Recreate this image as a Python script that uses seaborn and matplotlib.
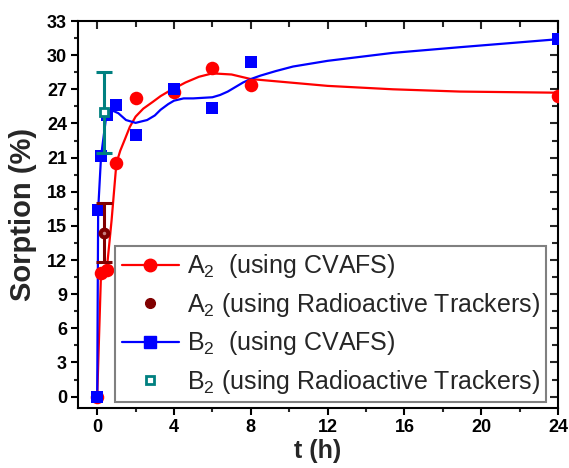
import numpy as np
import pandas as pd
import matplotlib
matplotlib.use("Agg")
import matplotlib.pyplot as plt
from matplotlib.lines import Line2D
from matplotlib.ticker import MultipleLocator
import seaborn as sns

# ---- data ----
a2_t = [0, 0.2, 0.5, 1, 2, 4, 6, 8, 24]
a2_v = [0, 10.9, 11.1, 20.5, 26.2, 26.8, 28.9, 27.4, 26.4]

b2_t = [0, 0.05, 0.2, 0.5, 1, 2, 4, 6, 8, 24]
b2_v = [0, 16.4, 21.1, 24.7, 25.6, 23.0, 27.0, 25.4, 29.4, 31.4]

# smooth fitted curves
a2_curve_t = [0, 0.2, 0.5, 0.75, 1, 1.2, 1.44, 1.7, 2, 2.4, 2.9, 3.3, 3.7, 4.6, 5.3, 6, 7, 8, 10, 12, 15.4, 18.9, 24]
a2_curve_v = [0, 10.9, 11.2, 15.5, 20.5, 21.6, 22.6, 23.7, 24.6, 25.3, 25.9, 26.4, 26.8, 27.6, 28.1, 28.4, 28.3, 27.9, 27.6, 27.3, 27.0, 26.8, 26.7]

b2_curve_t = [0, 0.05, 0.2, 0.5, 0.7, 1.1, 1.5, 2.0, 2.6, 3.0, 3.3, 3.7, 4.0, 4.5, 5, 6, 6.4, 6.8, 7.2, 7.6, 8.0, 8.5, 9.3, 10.2, 12, 15.4, 18.9, 24]
b2_curve_v = [0, 16.4, 21.1, 25.0, 25.2, 24.9, 24.3, 24.05, 24.3, 24.7, 25.2, 25.7, 26.0, 26.2, 26.2, 26.3, 26.5, 26.8, 27.2, 27.6, 27.9, 28.2, 28.6, 29.0, 29.5, 30.2, 30.7, 31.4]

# radioactive tracker measurements (mean, lower, upper)
a2r_t = [0.34]
a2r_v = [14.4]
a2r_lo = [11.8]
a2r_hi = [17.0]

b2r_t = [0.34]
b2r_v = [25.0]
b2r_lo = [21.4]
b2r_hi = [28.5]

labels = ["A$_2$  (using CVAFS)", "A$_2$ (using Radioactive Trackers)",
          "B$_2$  (using CVAFS)", "B$_2$ (using Radioactive Trackers)"]

# ---- style ----
sns.set_theme(style="ticks")
plt.rcParams['font.family'] = ['Liberation Sans', 'DejaVu Sans']
plt.rcParams['mathtext.fontset'] = 'custom'
plt.rcParams['mathtext.rm'] = 'Liberation Sans'
plt.rcParams['mathtext.it'] = 'Liberation Sans'
plt.rcParams['mathtext.bf'] = 'Liberation Sans:bold'

RED = "#ff0000"
BLUE = "#0000ff"
DRED = "#800000"
TEAL = "#008080"

fig = plt.figure(figsize=(5.69, 4.68), dpi=100)
ax = fig.add_axes([78/569, 1 - 408/468, (558-78)/569, (408-21)/468])

a2c = pd.DataFrame({"t": a2_curve_t, "v": a2_curve_v})
b2c = pd.DataFrame({"t": b2_curve_t, "v": b2_curve_v})
sns.lineplot(data=a2c, x="t", y="v", ax=ax, color=RED, lw=1.6, sort=False, zorder=2)
sns.lineplot(data=b2c, x="t", y="v", ax=ax, color=BLUE, lw=1.6, sort=False, zorder=2)

a2 = pd.DataFrame({"t": a2_t, "v": a2_v})
b2 = pd.DataFrame({"t": b2_t, "v": b2_v})
sns.scatterplot(data=a2, x="t", y="v", ax=ax, color=RED, marker="o", s=95,
                edgecolor=RED, linewidth=0, zorder=3)
sns.scatterplot(data=b2, x="t", y="v", ax=ax, color=BLUE, marker="s", s=80,
                edgecolor=BLUE, linewidth=0, zorder=4)

# error bars
a2r_err = [np.array(a2r_v) - np.array(a2r_lo), np.array(a2r_hi) - np.array(a2r_v)]
b2r_err = [np.array(b2r_v) - np.array(b2r_lo), np.array(b2r_hi) - np.array(b2r_v)]
ax.errorbar(a2r_t, a2r_v, yerr=a2r_err, fmt="none", ecolor=DRED, elinewidth=2.2,
            capsize=6, capthick=2.2, zorder=5)
ax.errorbar(b2r_t, b2r_v, yerr=b2r_err, fmt="none", ecolor=TEAL, elinewidth=2.2,
            capsize=6, capthick=2.2, zorder=5)
ax.plot(a2r_t, a2r_v, ls="none", marker="o", ms=7.5, mfc=DRED, mec=DRED, zorder=6)
ax.plot(a2r_t, a2r_v, ls="none", marker="o", ms=2.5, mfc="#d9a0a0", mec="none",
        alpha=0.8, zorder=7)
ax.plot(b2r_t, b2r_v, ls="none", marker="s", ms=6, mfc="white", mec=TEAL, mew=2, zorder=6)

# axes
ax.set_xlim(-1, 24)
ax.set_ylim(-1, 33)
ax.xaxis.set_major_locator(MultipleLocator(4))
ax.xaxis.set_minor_locator(MultipleLocator(2))
ax.yaxis.set_major_locator(MultipleLocator(3))
ax.yaxis.set_minor_locator(MultipleLocator(1.5))
for sp in ax.spines.values():
    sp.set_visible(True)
    sp.set_linewidth(1.5)
    sp.set_color("black")
ax.tick_params(axis="both", which="major", direction="out", length=5, width=1.5,
               labelsize=13, colors="black", pad=3)
ax.tick_params(axis="both", which="minor", direction="out", length=3, width=1.5)
for lab in ax.get_xticklabels() + ax.get_yticklabels():
    lab.set_fontweight("bold")

# mirrored inward ticks on top and right
axt = ax.secondary_xaxis("top")
axt.xaxis.set_major_locator(MultipleLocator(4))
axt.xaxis.set_minor_locator(MultipleLocator(2))
axt.tick_params(which="major", direction="in", length=6, width=1.5, labeltop=False)
axt.tick_params(which="minor", direction="in", length=4, width=1.5)
axr = ax.secondary_yaxis("right")
axr.yaxis.set_major_locator(MultipleLocator(3))
axr.yaxis.set_minor_locator(MultipleLocator(1.5))
axr.tick_params(which="major", direction="in", length=6, width=1.5, labelright=False)
axr.tick_params(which="minor", direction="in", length=4, width=1.5)

ax.set_xlabel("t (h)", fontsize=18, fontweight="bold", labelpad=2)
ax.set_ylabel("Sorption (%)", fontsize=21, fontweight="bold", labelpad=7)

handles = [
    Line2D([], [], color=RED, lw=1.6, marker="o", ms=9, mfc=RED, mec=RED),
    Line2D([], [], color=DRED, ls="none", marker="o", ms=7, mfc=DRED, mec=DRED),
    Line2D([], [], color=BLUE, lw=1.6, marker="s", ms=8, mfc=BLUE, mec=BLUE),
    Line2D([], [], color=TEAL, ls="none", marker="s", ms=6, mfc="white", mec=TEAL, mew=2),
]
leg = ax.legend(handles, labels, loc="lower right", bbox_to_anchor=(0.975, 0.0155),
                borderaxespad=0, fontsize=18, frameon=True, fancybox=False,
                framealpha=1, edgecolor="#808080", handlelength=2.3,
                labelspacing=0.42, handletextpad=0.3, borderpad=0.25)
leg.get_frame().set_linewidth(1.5)

fig.savefig("out.png", dpi=100)
